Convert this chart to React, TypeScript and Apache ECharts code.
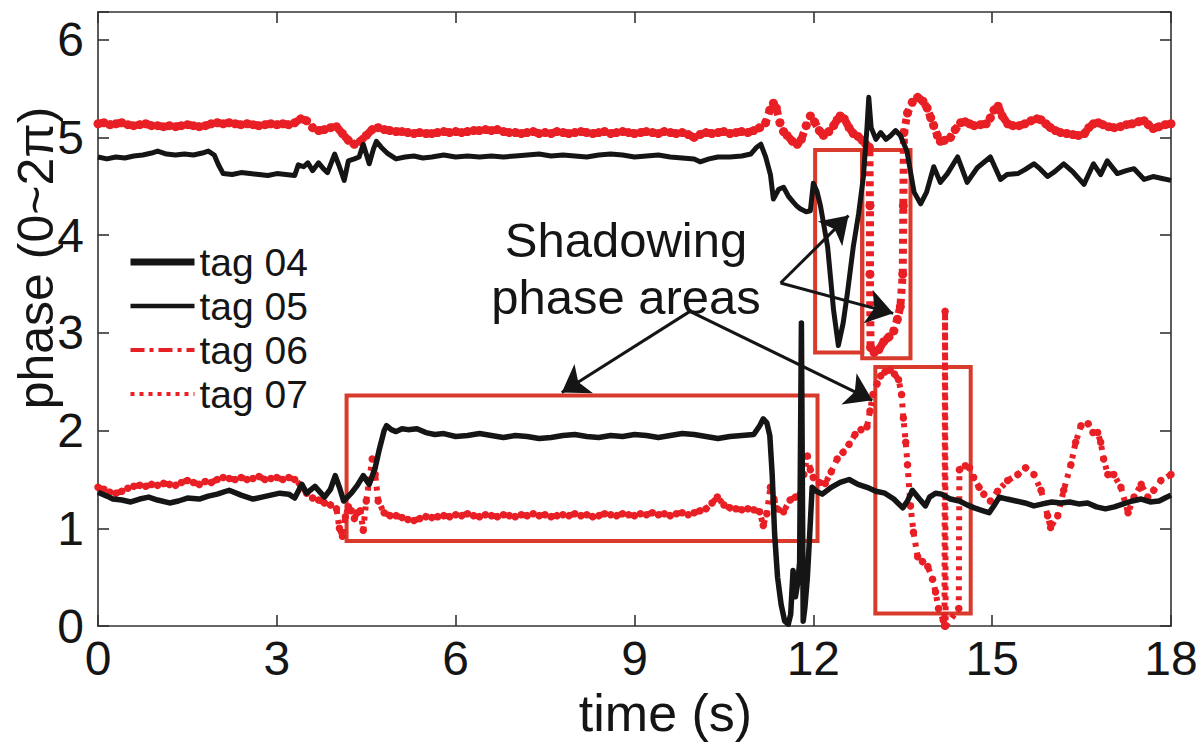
import React, { useEffect, useRef } from 'react';
import * as echarts from 'echarts';

// time (s), phase (rad)
const TAG04: number[][] = [
  [0.0,1.37],[0.15,1.33],[0.25,1.30],[0.4,1.29],[0.55,1.27],[0.7,1.30],[0.85,1.32],[1.0,1.29],[1.2,1.26],[1.35,1.28],
  [1.5,1.31],[1.7,1.30],[1.85,1.33],[2.0,1.35],[2.2,1.39],[2.4,1.34],[2.6,1.30],[2.75,1.32],[2.9,1.34],[3.05,1.36],
  [3.2,1.35],[3.3,1.31],[3.42,1.45],[3.5,1.36],[3.64,1.43],[3.8,1.32],[3.9,1.40],[3.98,1.54],[4.05,1.42],[4.12,1.28],
  [4.25,1.36],[4.35,1.44],[4.45,1.54],[4.55,1.45],[4.65,1.62],[4.72,1.81],[4.8,2.00],[4.84,2.05],[4.92,2.01],[5.0,1.99],
  [5.1,2.02],[5.2,2.01],[5.35,2.02],[5.5,1.98],[5.65,1.96],[5.8,1.97],[6.0,1.94],[6.2,1.95],[6.4,1.97],[6.6,1.95],
  [6.8,1.93],[7.0,1.95],[7.2,1.94],[7.4,1.92],[7.6,1.93],[7.8,1.95],[8.0,1.96],[8.2,1.94],[8.4,1.93],[8.6,1.95],
  [8.8,1.94],[9.0,1.96],[9.2,1.95],[9.4,1.93],[9.6,1.95],[9.8,1.97],[10.0,1.96],[10.2,1.94],[10.4,1.92],[10.6,1.94],
  [10.8,1.95],[11.0,1.96],[11.1,2.05],[11.16,2.12],[11.22,2.08],[11.27,1.95],[11.31,1.55],[11.35,0.95],[11.4,0.5],[11.46,0.22],
  [11.52,0.05],[11.58,0.02],[11.62,0.12],[11.66,0.57],[11.7,0.3],[11.74,0.45],[11.77,0.65],[11.8,3.1],[11.83,0.05],[11.86,0.2],
  [11.9,0.5],[11.94,0.95],[11.98,1.42],[12.05,1.38],[12.15,1.35],[12.3,1.42],[12.45,1.47],[12.6,1.50],[12.75,1.45],[12.9,1.42],
  [13.05,1.38],[13.2,1.36],[13.35,1.30],[13.5,1.21],[13.58,1.28],[13.66,1.39],[13.78,1.30],[13.88,1.23],[13.95,1.32],[14.05,1.36],
  [14.15,1.35],[14.3,1.30],[14.45,1.28],[14.58,1.24],[14.7,1.21],[14.85,1.18],[14.95,1.16],[15.05,1.25],[15.12,1.32],[15.25,1.30],
  [15.4,1.28],[15.55,1.26],[15.7,1.23],[15.85,1.25],[16.0,1.27],[16.15,1.26],[16.3,1.27],[16.45,1.25],[16.6,1.26],[16.75,1.22],
  [16.9,1.20],[17.05,1.22],[17.2,1.25],[17.35,1.28],[17.5,1.30],[17.65,1.27],[17.8,1.28],[17.9,1.31],[18.0,1.34]
];

const TAG05: number[][] = [
  [0.0,4.80],[0.15,4.78],[0.3,4.80],[0.45,4.79],[0.6,4.81],[0.75,4.82],[0.9,4.84],[1.0,4.86],[1.15,4.83],[1.3,4.82],
  [1.45,4.83],[1.6,4.82],[1.75,4.84],[1.85,4.86],[1.95,4.82],[2.02,4.72],[2.1,4.63],[2.25,4.62],[2.4,4.64],[2.55,4.63],
  [2.7,4.62],[2.85,4.61],[3.0,4.63],[3.15,4.62],[3.3,4.61],[3.36,4.72],[3.45,4.70],[3.52,4.74],[3.6,4.66],[3.7,4.74],
  [3.78,4.68],[3.85,4.64],[3.97,4.83],[4.05,4.70],[4.13,4.56],[4.2,4.76],[4.3,4.78],[4.38,4.80],[4.45,4.93],[4.55,4.73],
  [4.62,4.88],[4.67,4.96],[4.75,4.90],[4.85,4.84],[5.0,4.78],[5.15,4.80],[5.3,4.81],[5.45,4.79],[5.6,4.80],[5.8,4.82],
  [6.0,4.80],[6.2,4.81],[6.4,4.80],[6.6,4.81],[6.8,4.80],[7.0,4.81],[7.2,4.82],[7.4,4.83],[7.6,4.81],[7.8,4.82],
  [8.0,4.81],[8.2,4.80],[8.4,4.82],[8.6,4.83],[8.8,4.82],[9.0,4.80],[9.2,4.81],[9.4,4.82],[9.6,4.80],[9.8,4.79],
  [10.0,4.78],[10.1,4.75],[10.25,4.78],[10.4,4.80],[10.6,4.80],[10.8,4.81],[10.95,4.83],[11.05,4.90],[11.12,4.93],[11.2,4.80],
  [11.28,4.62],[11.33,4.37],[11.42,4.47],[11.5,4.49],[11.58,4.40],[11.66,4.34],[11.72,4.30],[11.78,4.27],[11.88,4.24],[11.95,4.25],
  [12.0,4.53],[12.06,4.45],[12.12,4.30],[12.24,3.88],[12.34,3.23],[12.42,2.87],[12.5,3.1],[12.57,3.4],[12.67,3.88],[12.76,4.22],
  [12.84,4.6],[12.9,5.1],[12.93,5.41],[12.97,5.1],[13.05,4.98],[13.13,5.05],[13.22,4.98],[13.3,5.02],[13.38,5.07],[13.46,5.02],
  [13.57,4.86],[13.69,4.44],[13.8,4.32],[13.9,4.44],[14.02,4.70],[14.13,4.54],[14.25,4.63],[14.42,4.80],[14.58,4.54],[14.75,4.69],
  [14.97,4.80],[15.14,4.57],[15.25,4.62],[15.43,4.63],[15.55,4.67],[15.7,4.73],[15.8,4.68],[15.93,4.60],[16.05,4.65],[16.2,4.73],
  [16.35,4.65],[16.54,4.52],[16.7,4.73],[16.82,4.62],[16.93,4.76],[17.1,4.63],[17.25,4.66],[17.38,4.68],[17.55,4.57],[17.7,4.60],
  [17.85,4.58],[18.0,4.56]
];

const TAG06: number[][] = [
  [0.0,5.14],[0.1,5.15],[0.2,5.13],[0.3,5.14],[0.4,5.15],[0.5,5.13],[0.6,5.12],[0.7,5.13],[0.8,5.14],[0.9,5.12],
  [1.0,5.12],[1.1,5.11],[1.2,5.12],[1.3,5.11],[1.4,5.12],[1.5,5.13],[1.6,5.12],[1.7,5.11],[1.8,5.12],[1.9,5.14],
  [2.0,5.15],[2.1,5.14],[2.2,5.15],[2.3,5.14],[2.4,5.13],[2.5,5.14],[2.6,5.13],[2.7,5.12],[2.8,5.13],[2.9,5.14],
  [3.0,5.13],[3.1,5.14],[3.2,5.13],[3.3,5.15],[3.4,5.19],[3.5,5.17],[3.6,5.10],[3.7,5.07],[3.8,5.08],[3.9,5.10],
  [4.0,5.11],[4.1,5.04],[4.2,4.97],[4.3,4.93],[4.4,4.96],[4.5,5.02],[4.6,5.08],[4.7,5.10],[4.8,5.08],[4.9,5.07],
  [5.0,5.06],[5.1,5.06],[5.2,5.05],[5.3,5.04],[5.4,5.05],[5.5,5.04],[5.6,5.04],[5.7,5.05],[5.8,5.06],[5.9,5.05],
  [6.0,5.06],[6.1,5.05],[6.2,5.06],[6.3,5.07],[6.4,5.07],[6.5,5.08],[6.6,5.07],[6.7,5.08],[6.8,5.06],[6.9,5.05],
  [7.0,5.05],[7.1,5.04],[7.2,5.05],[7.3,5.06],[7.4,5.04],[7.5,5.05],[7.6,5.04],[7.7,5.06],[7.8,5.05],[7.9,5.04],
  [8.0,5.05],[8.1,5.06],[8.2,5.05],[8.3,5.04],[8.4,5.05],[8.5,5.06],[8.6,5.04],[8.7,5.05],[8.8,5.06],[8.9,5.05],
  [9.0,5.04],[9.1,5.05],[9.2,5.06],[9.3,5.05],[9.4,5.04],[9.5,5.06],[9.6,5.05],[9.7,5.04],[9.8,5.05],[9.9,5.03],
  [10.0,5.00],[10.1,5.03],[10.2,5.05],[10.3,5.04],[10.4,5.05],[10.5,5.06],[10.6,5.04],[10.7,5.05],[10.8,5.06],[10.9,5.05],
  [11.0,5.07],[11.1,5.10],[11.2,5.15],[11.27,5.28],[11.33,5.35],[11.38,5.30],[11.44,5.15],[11.5,5.06],[11.56,5.02],[11.65,4.96],
  [11.73,4.93],[11.8,4.98],[11.88,5.12],[11.95,5.22],[12.02,5.16],[12.1,5.07],[12.17,5.02],[12.26,5.06],[12.34,5.12],[12.4,5.18],
  [12.45,5.22],[12.52,5.19],[12.6,5.10],[12.67,5.04],[12.75,5.01],[12.82,4.97],[12.88,4.93],[12.94,4.90],[12.95,4.30],[12.95,3.60],
  [12.96,2.85],[13.02,2.80],[13.1,2.83],[13.18,2.91],[13.27,2.96],[13.35,3.02],[13.41,3.14],[13.46,3.27],[13.5,3.60],[13.51,4.30],
  [13.52,5.05],[13.58,5.25],[13.66,5.36],[13.75,5.41],[13.84,5.37],[13.91,5.30],[13.97,5.20],[14.02,5.12],[14.08,5.02],[14.13,4.96],
  [14.2,4.97],[14.3,5.00],[14.38,5.08],[14.47,5.15],[14.55,5.16],[14.62,5.14],[14.7,5.12],[14.8,5.13],[14.9,5.14],[14.97,5.20],
  [15.03,5.28],[15.1,5.32],[15.17,5.22],[15.26,5.14],[15.35,5.12],[15.45,5.12],[15.55,5.14],[15.65,5.17],[15.75,5.19],[15.82,5.18],
  [15.9,5.14],[15.98,5.10],[16.06,5.07],[16.15,5.05],[16.25,5.04],[16.35,5.03],[16.45,5.02],[16.55,5.04],[16.62,5.10],[16.7,5.14],
  [16.78,5.15],[16.86,5.13],[16.95,5.11],[17.05,5.10],[17.15,5.11],[17.25,5.13],[17.35,5.14],[17.45,5.16],[17.55,5.17],[17.62,5.13],
  [17.7,5.09],[17.8,5.11],[17.9,5.13],[18.0,5.14]
];

const TAG07: number[][] = [
  [0.0,1.42],[0.1,1.40],[0.2,1.37],[0.3,1.36],[0.4,1.38],[0.5,1.41],[0.6,1.43],[0.7,1.44],[0.8,1.43],[0.9,1.45],
  [1.0,1.44],[1.1,1.46],[1.2,1.45],[1.3,1.44],[1.4,1.47],[1.5,1.49],[1.6,1.47],[1.7,1.45],[1.8,1.48],[1.9,1.47],
  [2.0,1.50],[2.1,1.52],[2.2,1.51],[2.3,1.50],[2.4,1.52],[2.5,1.50],[2.6,1.51],[2.7,1.53],[2.8,1.50],[2.9,1.51],
  [3.0,1.52],[3.1,1.50],[3.2,1.52],[3.3,1.50],[3.4,1.44],[3.5,1.36],[3.6,1.31],[3.7,1.29],[3.8,1.26],[3.9,1.24],
  [4.0,1.20],[4.05,1.00],[4.1,0.92],[4.15,1.12],[4.2,1.22],[4.25,1.18],[4.3,1.10],[4.35,1.16],[4.4,1.18],[4.45,0.98],
  [4.5,1.28],[4.55,1.49],[4.6,1.71],[4.65,1.55],[4.7,1.28],[4.8,1.16],[4.9,1.13],
  [5.0,1.13],[5.1,1.11],[5.2,1.09],[5.3,1.08],[5.4,1.10],[5.5,1.12],[5.6,1.11],[5.7,1.12],[5.8,1.13],[5.9,1.12],
  [6.0,1.14],[6.1,1.13],[6.2,1.15],[6.3,1.13],[6.4,1.12],[6.5,1.14],[6.6,1.13],[6.7,1.12],[6.8,1.14],[6.9,1.13],
  [7.0,1.12],[7.1,1.14],[7.2,1.13],[7.3,1.15],[7.4,1.13],[7.5,1.14],[7.6,1.12],[7.7,1.13],[7.8,1.14],[7.9,1.13],
  [8.0,1.15],[8.1,1.13],[8.2,1.14],[8.3,1.12],[8.4,1.13],[8.5,1.15],[8.6,1.14],[8.7,1.13],[8.8,1.15],[8.9,1.14],
  [9.0,1.13],[9.1,1.15],[9.2,1.14],[9.3,1.16],[9.4,1.14],[9.5,1.15],[9.6,1.13],[9.7,1.15],[9.8,1.16],[9.9,1.14],
  [10.0,1.16],[10.1,1.18],[10.2,1.20],[10.3,1.26],[10.39,1.32],[10.5,1.24],[10.6,1.21],[10.7,1.20],[10.8,1.19],[10.9,1.20],
  [11.0,1.19],[11.1,1.17],[11.16,1.03],[11.22,1.15],[11.28,1.42],[11.34,1.30],[11.39,1.20],[11.5,1.17],[11.61,1.29],[11.7,1.32],
  [11.78,1.35],[11.84,1.55],[11.9,1.74],[11.95,1.60],[12.0,1.52],[12.1,1.47],[12.2,1.46],[12.3,1.58],[12.4,1.71],[12.5,1.78],
  [12.6,1.86],[12.7,1.96],[12.8,2.01],[12.9,2.04],[12.95,2.20],[13.0,2.37],[13.07,2.48],[13.13,2.56],[13.2,2.60],[13.29,2.62],
  [13.36,2.58],[13.43,2.52],[13.48,2.37],[13.51,2.13],[13.55,1.88],[13.58,1.65],[13.63,1.23],[13.68,0.96],[13.75,0.71],[13.83,0.66],
  [13.92,0.61],[14.0,0.48],[14.05,0.35],[14.1,0.18],[14.18,0.06],[14.2,0.00],[14.21,3.22],[14.22,0.00],[14.44,0.18],[14.45,1.60],
  [14.55,1.64],[14.62,1.62],[14.69,1.52],[14.78,1.42],[14.86,1.35],[14.97,1.28],[15.09,1.38],[15.26,1.49],[15.43,1.55],[15.56,1.62],
  [15.7,1.55],[15.82,1.39],[15.93,1.13],[15.98,1.01],[16.1,1.13],[16.2,1.39],[16.32,1.65],[16.4,1.88],[16.49,2.05],[16.61,2.07],
  [16.69,1.98],[16.77,1.98],[16.82,1.88],[16.87,1.71],[16.94,1.55],[17.04,1.55],[17.16,1.42],[17.28,1.16],[17.38,1.32],[17.5,1.45],
  [17.61,1.32],[17.71,1.39],[17.83,1.49],[18.0,1.55]
];

const SERIES_NAMES = ['tag 04', 'tag 05', 'tag 06', 'tag 07'];
const X_MIN = 0;
const X_MAX = 18;
const X_STEP = 3;
const Y_MIN = 0;
const Y_MAX = 2 * Math.PI;
const Y_STEP = 1;

// shadowing areas: [[t1, phase1], [t2, phase2]]
const AREAS: number[][][] = [
  [[4.17, 2.36], [12.07, 0.87]],
  [[12.03, 4.87], [12.82, 2.80]],
  [[12.82, 4.87], [13.63, 2.74]],
  [[13.04, 2.65], [14.64, 0.13]]
];

// arrows: [[from t, from phase], [to t, to phase]]
const ARROWS: number[][][] = [
  [[9.93, 3.22], [7.78, 2.39]],
  [[9.93, 3.22], [12.99, 2.31]],
  [[11.45, 3.51], [12.59, 4.20]],
  [[11.45, 3.51], [13.34, 3.20]]
];

const FONT = 'Liberation Sans, Arial, Helvetica, sans-serif';
const RED = '#e81f25';
const BOX_RED = '#d83a2c';
const INK = '#151515';

export default function App() {
  const ref = useRef<HTMLDivElement>(null);

  useEffect(() => {
    document.body.style.margin = '0';
    if (!ref.current) return;
    const chart = echarts.init(ref.current, undefined, { renderer: 'svg' });

    const axisCommon = {
      type: 'value' as const,
      axisLine: { show: true, onZero: false, lineStyle: { color: '#333', width: 1.6 } },
      axisTick: { show: true, inside: true, length: 11, lineStyle: { color: '#333', width: 1.6 } },
      splitLine: { show: false },
    };

    const option: any = {
      animation: false,
      backgroundColor: '#ffffff',
      grid: { left: 98, right: 31, top: 12, bottom: 89, containLabel: false },
      xAxis: [
        { ...axisCommon, position: 'bottom', min: X_MIN, max: X_MAX, interval: X_STEP,
          axisLabel: { color: INK, fontSize: 48, fontFamily: FONT, margin: 8 },
          name: 'time (s)', nameLocation: 'middle', nameGap: 51,
          nameTextStyle: { color: INK, fontSize: 52, fontFamily: FONT, padding: [0, 0, 0, 62] } },
        { ...axisCommon, position: 'top', min: X_MIN, max: X_MAX, interval: X_STEP,
          axisLabel: { show: false } },
      ],
      yAxis: [
        { ...axisCommon, position: 'left', min: Y_MIN, max: Y_MAX, interval: Y_STEP,
          axisLabel: { color: INK, fontSize: 48, fontFamily: FONT, margin: 14,
            formatter: (v: number) => (v > 6.01 ? '' : String(v)) } },
        { ...axisCommon, position: 'right', min: Y_MIN, max: Y_MAX, interval: Y_STEP,
          axisLabel: { show: false } },
      ],
      legend: {
        orient: 'vertical',
        left: 127,
        top: 240,
        padding: 0,
        itemWidth: 64,
        itemHeight: 20,
        itemGap: 0,
        selectedMode: false,
        textStyle: { color: INK, fontSize: 39, lineHeight: 44, fontFamily: FONT },
        itemStyle: { opacity: 0 },
        data: [
          { name: SERIES_NAMES[0], lineStyle: { width: 7, type: 'solid', color: INK } },
          { name: SERIES_NAMES[1], lineStyle: { width: 4.5, type: 'solid', color: INK } },
          { name: SERIES_NAMES[2], lineStyle: { width: 4, type: [14, 5, 4, 5], color: RED } },
          { name: SERIES_NAMES[3], lineStyle: { width: 4, type: [4, 5], color: RED } },
        ],
      },
      series: [
        {
          name: SERIES_NAMES[0], type: 'line', data: TAG04, xAxisIndex: 0, yAxisIndex: 0,
          showSymbol: false, symbol: 'none',
          lineStyle: { color: INK, width: 5.5, join: 'round' }, itemStyle: { color: INK },
          z: 3,
          markArea: {
            silent: true,
            itemStyle: { color: 'rgba(0,0,0,0)', borderColor: BOX_RED, borderWidth: 4 },
            label: { show: false },
            data: AREAS.map(([a, b]) => [
              { xAxis: a[0], yAxis: a[1] },
              { xAxis: b[0], yAxis: b[1] },
            ]),
          },
        },
        {
          name: SERIES_NAMES[1], type: 'line', data: TAG05, xAxisIndex: 0, yAxisIndex: 0,
          showSymbol: false, symbol: 'none',
          lineStyle: { color: INK, width: 5, join: 'round' }, itemStyle: { color: INK },
          z: 3,
          markLine: {
            silent: true,
            symbol: ['none', 'arrow'],
            symbolSize: 26,
            label: { show: false },
            lineStyle: { color: INK, width: 3, type: 'solid' },
            itemStyle: { color: INK },
            data: ARROWS.map(([a, b]) => [
              { coord: [a[0], a[1]] },
              { coord: [b[0], b[1]] },
            ]),
          },
        },
        {
          name: SERIES_NAMES[2], type: 'line', data: TAG06, xAxisIndex: 0, yAxisIndex: 0,
          showSymbol: true, symbol: 'circle', symbolSize: 9,
          lineStyle: { color: RED, width: 8, type: [5, 5] }, itemStyle: { color: RED },
          z: 2,
        },
        {
          name: SERIES_NAMES[3], type: 'line', data: TAG07, xAxisIndex: 0, yAxisIndex: 0,
          showSymbol: true, symbol: 'circle', symbolSize: 7.5,
          lineStyle: { color: RED, width: 6, type: [4, 6] }, itemStyle: { color: RED },
          z: 2,
        },
      ],
      graphic: [
        {
          type: 'text', x: 36, y: 258, rotation: Math.PI / 2,
          style: { text: 'phase (0~2\u03c0)', fill: INK, fontSize: 50, fontFamily: FONT,
            align: 'center', verticalAlign: 'middle', textAlign: 'center', textVerticalAlign: 'middle' },
        },
        {
          type: 'text', x: 626, y: 268,
          style: { text: 'Shadowing\nphase areas', fill: INK, fontSize: 49, fontFamily: FONT, lineHeight: 57,
            align: 'center', verticalAlign: 'middle', textAlign: 'center', textVerticalAlign: 'middle' },
        },
      ],
    };

    chart.setOption(option);
    return () => chart.dispose();
  }, []);

  return <div ref={ref} style={{ width: 1202, height: 744 }} />;
}
